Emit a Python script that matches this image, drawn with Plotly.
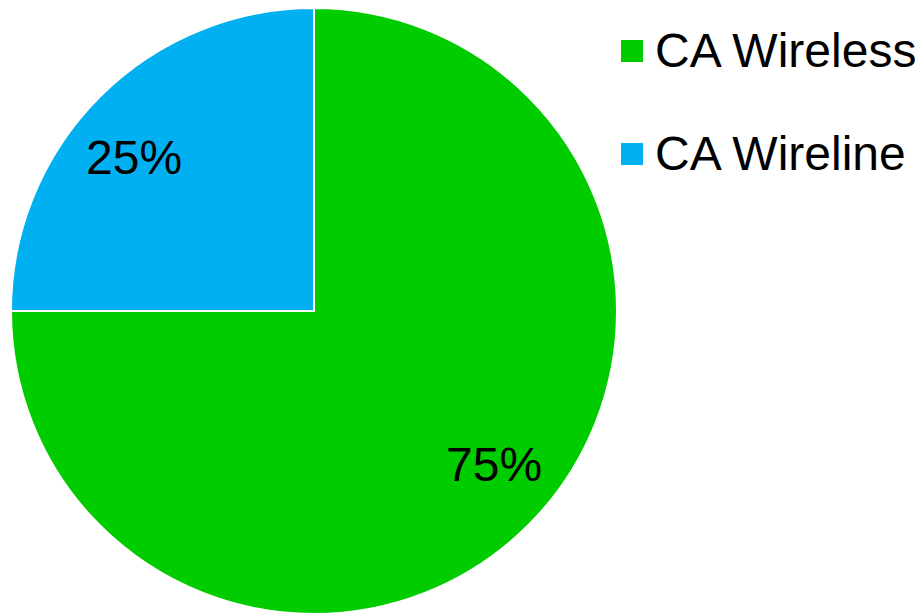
import math
import plotly.graph_objects as go

# data
labels = ["CA Wireless", "CA Wireline"]
values = [75, 25]
colors = ["#00CC00", "#00B0F0"]

W, H = 923, 613
OFF = 8  # page body margin shifts everything by 8px
FONT = "Arial, Liberation Sans, sans-serif"

# pie geometry in figure pixels
cx, cy, R = 306, 303, 303

fig = go.Figure()
fig.add_trace(go.Pie(
    labels=labels,
    values=values,
    sort=False,
    direction="clockwise",
    rotation=0,
    marker=dict(colors=colors, line=dict(color="white", width=2)),
    textinfo="none",
    showlegend=False,
    hoverinfo="label+percent",
    domain=dict(x=[(cx - R) / W, (cx + R) / W], y=[(H - cy - R) / H, (H - cy + R) / H]),
))

shapes = []
annotations = []

# percentage labels, placed along each slice's mid angle (slightly turned back)
total = sum(values)
cum = 0
for v in values:
    mid = (cum + v / 2) / total * 2 * math.pi - math.radians(4.5)
    cum += v
    px = cx + 0.78 * R * math.sin(mid)
    py = cy - 0.78 * R * math.cos(mid)
    annotations.append(dict(xref="paper", yref="paper", x=px / W, y=1 - py / H,
                            xanchor="center", yanchor="middle", showarrow=False,
                            text="%d%%" % round(100 * v / total),
                            font=dict(family=FONT, size=48, color="black")))

# hand-drawn legend so the row spacing matches
rows_y = [51 - OFF, 154 - OFF]
for name, col, yc in zip(labels, colors, rows_y):
    shapes.append(dict(type="rect", xref="paper", yref="paper",
                       x0=(621 - OFF) / W, x1=(643 - OFF) / W,
                       y0=1 - (yc + 11) / H, y1=1 - (yc - 11) / H,
                       fillcolor=col, line=dict(width=0)))
    annotations.append(dict(xref="paper", yref="paper", x=(657 - OFF - 4) / W, y=1 - yc / H,
                            xanchor="left", yanchor="middle", showarrow=False,
                            text=name, font=dict(family=FONT, size=48, color="black")))

fig.update_layout(
    width=W, height=H,
    margin=dict(l=0, r=0, t=0, b=0),
    paper_bgcolor="white",
    plot_bgcolor="white",
    shapes=shapes,
    annotations=annotations,
)

fig.write_html("out.html")
